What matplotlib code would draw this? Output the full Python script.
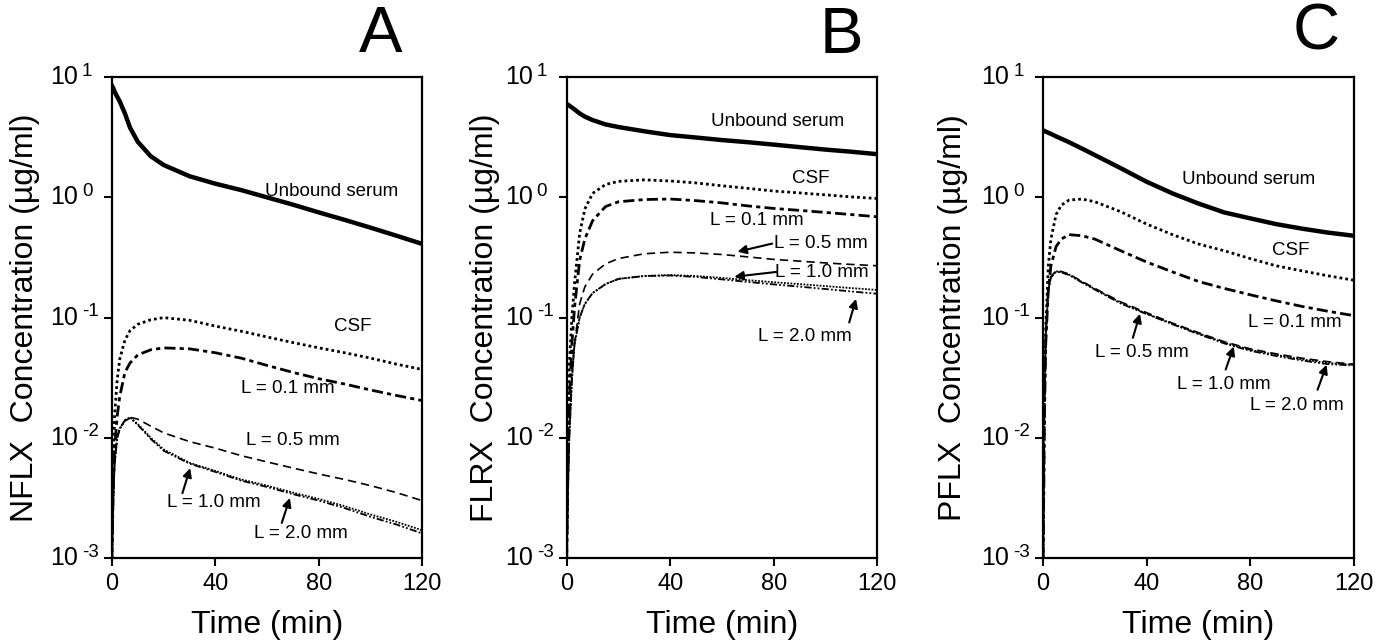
import numpy as np
import matplotlib.pyplot as plt
from matplotlib.ticker import NullLocator

plt.rcParams['font.family'] = ['Liberation Sans', 'DejaVu Sans']

# time grid (min), shared by every curve
t = [0, 0.5, 1, 2, 3, 5, 7, 10, 15, 20, 30, 40, 50, 60, 70, 80, 90, 100, 110, 120]

# panel A - NFLX
a_serum = [8.5, 8.1, 7.6, 6.9, 6.3, 5.0, 3.8, 2.9, 2.2, 1.86, 1.5, 1.3, 1.15, 1.0, 0.87, 0.75, 0.65, 0.56, 0.48, 0.41]
a_csf = [0.001, 0.006, 0.015, 0.03, 0.045, 0.065, 0.078, 0.088, 0.096, 0.1, 0.095, 0.085, 0.077, 0.069, 0.062, 0.056, 0.051, 0.046, 0.041, 0.037]
a_l01 = [0.001, 0.004, 0.008, 0.015, 0.022, 0.035, 0.042, 0.049, 0.054, 0.056, 0.055, 0.051, 0.046, 0.040, 0.035, 0.031, 0.028, 0.025, 0.0225, 0.0204]
a_l05 = [0.001, 0.003, 0.006, 0.010, 0.012, 0.014, 0.0148, 0.0143, 0.0125, 0.011, 0.0093, 0.0082, 0.0071, 0.0063, 0.0056, 0.005, 0.0045, 0.004, 0.0035, 0.0030]
a_l10 = [0.001, 0.003, 0.006, 0.010, 0.012, 0.014, 0.0148, 0.013, 0.0100, 0.0080, 0.0062, 0.0053, 0.0045, 0.0040, 0.0035, 0.0031, 0.0027, 0.0023, 0.0020, 0.0017]
a_l20 = [0.001, 0.003, 0.006, 0.0098, 0.0118, 0.0138, 0.0146, 0.0128, 0.0098, 0.0078, 0.0061, 0.0052, 0.0044, 0.0039, 0.0034, 0.0030, 0.0026, 0.0022, 0.0019, 0.0016]

# panel B - FLRX
b_serum = [6.0, 5.9, 5.8, 5.6, 5.4, 5.0, 4.7, 4.4, 4.05, 3.85, 3.55, 3.3, 3.15, 3.0, 2.88, 2.75, 2.62, 2.5, 2.4, 2.29]
b_csf = [0.001, 0.01, 0.04, 0.1, 0.19, 0.5, 0.8, 1.08, 1.28, 1.36, 1.4, 1.37, 1.32, 1.25, 1.19, 1.13, 1.09, 1.05, 1.01, 0.98]
b_l01 = [0.001, 0.006, 0.02, 0.06, 0.12, 0.3, 0.45, 0.64, 0.84, 0.92, 0.96, 0.97, 0.94, 0.9, 0.85, 0.81, 0.78, 0.75, 0.72, 0.69]
b_l05 = [0.001, 0.004, 0.012, 0.035, 0.06, 0.13, 0.18, 0.23, 0.28, 0.31, 0.34, 0.35, 0.345, 0.335, 0.32, 0.305, 0.295, 0.285, 0.277, 0.27]
b_l10 = [0.001, 0.004, 0.01, 0.03, 0.06, 0.1, 0.13, 0.16, 0.19, 0.21, 0.222, 0.226, 0.222, 0.214, 0.205, 0.197, 0.19, 0.183, 0.176, 0.17]
b_l20 = [0.001, 0.004, 0.01, 0.03, 0.06, 0.1, 0.13, 0.16, 0.19, 0.21, 0.222, 0.224, 0.218, 0.208, 0.198, 0.189, 0.181, 0.173, 0.165, 0.158]

# panel C - PFLX
c_serum = [3.6, 3.57, 3.53, 3.45, 3.38, 3.22, 3.08, 2.88, 2.55, 2.25, 1.75, 1.35, 1.08, 0.89, 0.75, 0.67, 0.6, 0.55, 0.51, 0.48]
c_csf = [0.001, 0.02, 0.08, 0.27, 0.45, 0.72, 0.86, 0.95, 0.97, 0.92, 0.76, 0.6, 0.49, 0.41, 0.36, 0.31, 0.27, 0.245, 0.223, 0.205]
c_l01 = [0.001, 0.015, 0.06, 0.17, 0.27, 0.39, 0.45, 0.49, 0.48, 0.45, 0.36, 0.29, 0.24, 0.2, 0.175, 0.155, 0.138, 0.124, 0.113, 0.104]
c_l05 = [0.001, 0.02, 0.07, 0.17, 0.22, 0.245, 0.242, 0.23, 0.2, 0.175, 0.135, 0.11, 0.09, 0.075, 0.063, 0.055, 0.05, 0.046, 0.043, 0.041]
c_l10 = [0.001, 0.02, 0.07, 0.168, 0.218, 0.243, 0.24, 0.228, 0.198, 0.173, 0.133, 0.108, 0.089, 0.074, 0.062, 0.054, 0.049, 0.045, 0.042, 0.0405]
c_l20 = [0.001, 0.02, 0.07, 0.166, 0.216, 0.241, 0.238, 0.226, 0.196, 0.171, 0.131, 0.107, 0.088, 0.073, 0.061, 0.053, 0.048, 0.044, 0.041, 0.040]

drugs = ['NFLX', 'FLRX', 'PFLX']
letters = ['A', 'B', 'C']
xticks = [0, 40, 80, 120]
yticks = [1e-3, 1e-2, 1e-1, 1, 10]
yexps = ['-3', '-2', '-1', '0', '1']

styles = [
    dict(color='k', lw=3.2, ls='-'),                       # unbound serum
    dict(color='k', lw=2.0, ls=(0, (1, 1.1))),             # CSF
    dict(color='k', lw=2.0, ls=(0, (4, 1.5, 1.5, 1.5))),   # L = 0.1
    dict(color='k', lw=1.2, ls=(0, (5, 3))),               # L = 0.5
    dict(color='k', lw=1.3, ls=(0, (1, 0.8))),             # L = 1.0
    dict(color='k', lw=1.3, ls=(0, (4, 1.2, 1, 1.2, 1, 1.2))),  # L = 2.0
]

series = [
    [a_serum, a_csf, a_l01, a_l05, a_l10, a_l20],
    [b_serum, b_csf, b_l01, b_l05, b_l10, b_l20],
    [c_serum, c_csf, c_l01, c_l05, c_l10, c_l20],
]

# label text, text position, arrow tail, arrow head (axes fractions)
labels = [
    [('Unbound serum', (0.706, 0.763), None, None),
     ('CSF', (0.777, 0.482), None, None),
     ('L = 0.1 mm', (0.566, 0.353), None, None),
     ('L = 0.5 mm', (0.583, 0.245), None, None),
     ('L = 1.0 mm', (0.327, 0.116), (0.227, 0.135), (0.252, 0.187)),
     ('L = 2.0 mm', (0.608, 0.050), (0.547, 0.073), (0.573, 0.125))],
    [('Unbound serum', (0.678, 0.907), None, None),
     ('CSF', (0.785, 0.790), None, None),
     ('L = 0.1 mm', (0.611, 0.701), None, None),
     ('L = 0.5 mm', (0.82, 0.654), (0.662, 0.654), (0.55, 0.637)),
     ('L = 1.0 mm', (0.823, 0.593), (0.675, 0.595), (0.54, 0.585)),
     ('L = 2.0 mm', (0.768, 0.461), (0.91, 0.49), (0.932, 0.539))],
    [('Unbound serum', (0.662, 0.7875), None, None),
     ('CSF', (0.797, 0.640), None, None),
     ('L = 0.1 mm', (0.81, 0.49), None, None),
     ('L = 0.5 mm', (0.318, 0.427), (0.289, 0.458), (0.312, 0.508)),
     ('L = 1.0 mm', (0.582, 0.360), (0.588, 0.392), (0.614, 0.44)),
     ('L = 2.0 mm', (0.817, 0.317), (0.884, 0.35), (0.913, 0.402))],
]

lefts = [0.0806, 0.408, 0.751]
ylab_x = [-0.28, -0.264, -0.29]
letter_pos = [(0.867, 1.087), (0.884, 1.085), (0.881, 1.092)]

fig = plt.figure(figsize=(13.89, 6.44), dpi=100)

for k in range(3):
    ax = fig.add_axes([lefts[k], 0.1335, 0.2235, 0.7466])
    for vals, st in zip(series[k], styles):
        ax.plot(t, vals, **st)
    ax.set_yscale('log')
    ax.set_xlim(0, 120)
    ax.set_ylim(1e-3, 10)
    ax.set_xticks(xticks)
    ax.set_xticklabels([str(x) for x in xticks])
    ax.set_yticks(yticks)
    ax.set_yticklabels([])
    ax.yaxis.set_minor_locator(NullLocator())
    ax.tick_params(axis='both', direction='out', length=6, width=1.5, labelsize=17)
    ax.tick_params(axis='x', pad=5)
    for s in ax.spines.values():
        s.set_linewidth(1.6)

    # "10" with a raised exponent, hyphen style like the original
    ytrans = ax.get_yaxis_transform()
    for v, e in zip(yticks, yexps):
        ax.annotate('10', xy=(0, v), xycoords=ytrans, xytext=(-34, 0), textcoords='offset pixels',
                    ha='right', va='center', fontsize=18, annotation_clip=False)
        ax.annotate(e, xy=(0, v), xycoords=ytrans, xytext=(-30, 6), textcoords='offset pixels',
                    ha='left', va='center', fontsize=13.5, annotation_clip=False)

    ax.text(0.5, -0.139, 'Time (min)', transform=ax.transAxes, ha='center', va='center', fontsize=23)
    ax.text(ylab_x[k], 0.5, drugs[k] + '  Concentration (µg/ml)', transform=ax.transAxes,
            ha='center', va='center', rotation=90, fontsize=23)
    ax.text(letter_pos[k][0], letter_pos[k][1], letters[k], transform=ax.transAxes,
            ha='center', va='center', fontsize=47)

    for txt, pos, tail, head in labels[k]:
        ax.text(pos[0], pos[1], txt, transform=ax.transAxes, ha='center', va='center', fontsize=13.5)
        if tail is not None:
            ax.annotate('', xy=head, xytext=tail, xycoords='axes fraction', textcoords='axes fraction',
                        arrowprops=dict(arrowstyle='-|>', color='k', lw=1.5, mutation_scale=13,
                                        shrinkA=0, shrinkB=0))

fig.savefig('out.png', dpi=100)
